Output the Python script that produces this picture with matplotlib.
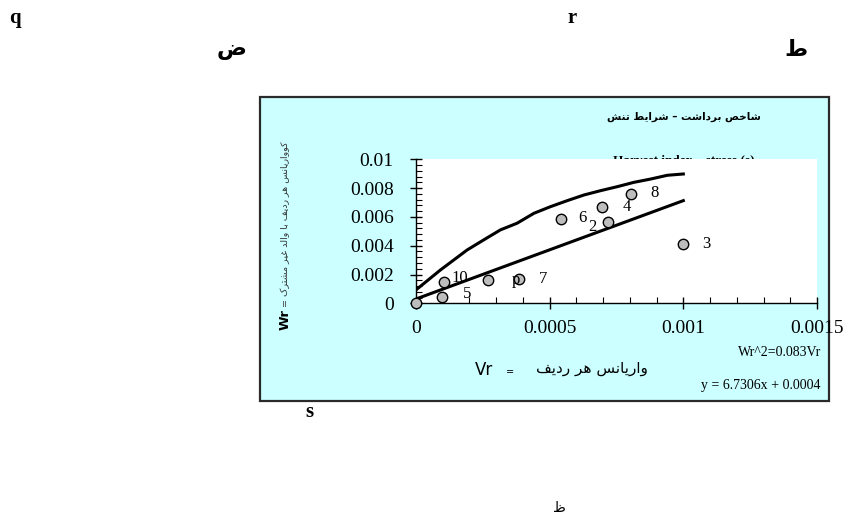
import matplotlib
matplotlib.use("Agg")
from matplotlib import pyplot as plt
from matplotlib.patches import Rectangle
from matplotlib.ticker import MultipleLocator, FixedLocator

# ------------------------------
# Data
# ------------------------------
vr_points = [0, 0.0000974, 0.000104, 0.00027, 0.000385, 0.000542, 0.00072, 0.000695, 0.000803, 0.000998]
wr_points = [0, 0.00044, 0.0015, 0.00162, 0.00167, 0.00583, 0.00563, 0.00671, 0.00757, 0.0041]
point_labels = ['', '5', '10', '', '7', '6', '2', '4', '8', '3']

curve_vr = [0, 0.0000911, 0.000191, 0.000253, 0.000316, 0.000378, 0.000441, 0.000503,
            0.000566, 0.000628, 0.00069, 0.000753, 0.000815, 0.000878, 0.00094, 0.001]
curve_wr = [0.00093, 0.00231, 0.0037, 0.0044, 0.0051, 0.00556, 0.00625, 0.00671,
            0.00713, 0.00752, 0.00782, 0.0081, 0.0084, 0.00863, 0.00889, 0.00898]

reg_vr = [0, 0.001]
reg_wr = [0.0003, 0.00713]

x_ticks = [0, 0.0005, 0.001, 0.0015]
x_ticklabels = ['0', '0.0005', '0.001', '0.0015']
y_ticks = [0, 0.002, 0.004, 0.006, 0.008, 0.01]
y_ticklabels = ['0', '0.002', '0.004', '0.006', '0.008', '0.01']

# ------------------------------
# Persian shaping (matplotlib has no complex text layout)
# ------------------------------
FORMS = {
    'ا': ('\uFE8D', '\uFE8E'),
    'ب': ('\uFE8F', '\uFE90', '\uFE91', '\uFE92'),
    'ت': ('\uFE95', '\uFE96', '\uFE97', '\uFE98'),
    'خ': ('\uFEA5', '\uFEA6', '\uFEA7', '\uFEA8'),
    'د': ('\uFEA9', '\uFEAA'),
    'ر': ('\uFEAD', '\uFEAE'),
    'س': ('\uFEB1', '\uFEB2', '\uFEB3', '\uFEB4'),
    'ش': ('\uFEB5', '\uFEB6', '\uFEB7', '\uFEB8'),
    'ص': ('\uFEB9', '\uFEBA', '\uFEBB', '\uFEBC'),
    'ض': ('\uFEBD', '\uFEBE', '\uFEBF', '\uFEC0'),
    'ط': ('\uFEC1', '\uFEC2', '\uFEC3', '\uFEC4'),
    'ظ': ('\uFEC5', '\uFEC6', '\uFEC7', '\uFEC8'),
    'غ': ('\uFECD', '\uFECE', '\uFECF', '\uFED0'),
    'ف': ('\uFED1', '\uFED2', '\uFED3', '\uFED4'),
    'ک': ('\uFB8E', '\uFB8F', '\uFB90', '\uFB91'),
    'ل': ('\uFEDD', '\uFEDE', '\uFEDF', '\uFEE0'),
    'م': ('\uFEE1', '\uFEE2', '\uFEE3', '\uFEE4'),
    'ن': ('\uFEE5', '\uFEE6', '\uFEE7', '\uFEE8'),
    'ه': ('\uFEE9', '\uFEEA', '\uFEEB', '\uFEEC'),
    'و': ('\uFEED', '\uFEEE'),
    'ی': ('\uFBFC', '\uFBFD', '\uFBFE', '\uFBFF'),
}


def fa(text):
    """Shape Persian text into presentation forms, in visual (LTR) order."""
    out = []
    i = 0
    while i < len(text):
        c = text[i]
        prev = text[i - 1] if i > 0 else ''
        joins_prev = prev in FORMS and len(FORMS[prev]) == 4
        if c == 'ل' and i + 1 < len(text) and text[i + 1] == 'ا':
            out.append('\uFEFC' if joins_prev else '\uFEFB')
            i += 2
            continue
        if c not in FORMS:
            out.append(c)
            i += 1
            continue
        nxt = text[i + 1] if i + 1 < len(text) else ''
        joins_next = len(FORMS[c]) == 4 and nxt in FORMS
        f = FORMS[c]
        if joins_prev and joins_next:
            out.append(f[3])
        elif joins_prev:
            out.append(f[1])
        elif joins_next:
            out.append(f[2])
        else:
            out.append(f[0])
        i += 1
    return ''.join(reversed(out))


SERIF = 'Liberation Serif'
FA = 'DejaVu Sans'

fig = plt.figure(figsize=(8.5, 5.18), dpi=100)

# ------------------------------
# Background layer in pixel coords
# ------------------------------
bg = fig.add_axes([0, 0, 1, 1], zorder=0)
bg.set_xlim(0, 850)
bg.set_ylim(518, 0)
bg.axis('off')

bg.add_patch(Rectangle((260, 97), 569, 304, facecolor='#ccffff', edgecolor='#2a2a2a', lw=1.6))

bg.text(15, 18, 'q', family=SERIF, fontsize=15, fontweight='bold', ha='center', va='center')
bg.text(572, 18, 'r', family=SERIF, fontsize=15, fontweight='bold', ha='center', va='center')
bg.text(232, 50, fa('ض'), family=FA, fontsize=16, fontweight='bold', ha='center', va='center')
bg.text(796, 50, fa('ط'), family=FA, fontsize=16, fontweight='bold', ha='center', va='center')
bg.text(309, 412, 's', family=SERIF, fontsize=15, fontweight='bold', ha='center', va='center')
bg.text(559, 508, fa('ظ'), family=FA, fontsize=10, ha='center', va='center')

bg.text(684, 117, fa('شاخص برداشت – شرایط تنش'), family=FA, fontsize=7.5,
        fontweight='bold', ha='center', va='center')
# partly hidden behind the white plot area, as in the reference
bg.text(684, 160, 'Harvest index – stress (s)', family=SERIF, fontsize=9.5,
        fontweight='bold', ha='center', va='center')

# y label (rotated)
bg.text(285, 320, 'Wr', family=FA, fontsize=9.5, fontweight='bold', rotation=90,
        ha='center', va='center')
bg.text(285, 224, '= ' + fa('کوواریانس هر ردیف با والد غیر مشترک'), family=FA,
        fontsize=6.8, color='#333333', rotation=90, ha='center', va='center')

# x label and equations
bg.text(484, 370, 'Vr', family=FA, fontsize=12, ha='center', va='center')
bg.text(510, 372, '=', family=FA, fontsize=7, ha='center', va='center')
bg.text(592, 369, fa('واریانس هر ردیف'), family=FA, fontsize=11, ha='center', va='center')
bg.text(821, 352, 'Wr^2=0.083Vr', family=SERIF, fontsize=10, ha='right', va='center')
bg.text(821, 386, 'y = 6.7306x + 0.0004', family=SERIF, fontsize=10, ha='right', va='center')

# ------------------------------
# Main plot
# ------------------------------
ax = fig.add_axes([416 / 850, 1 - 303.3 / 518, (817 - 416) / 850, (303.3 - 159.3) / 518], zorder=1)
ax.set_facecolor('white')
ax.set_xlim(0, 0.0015)
ax.set_ylim(0, 0.01)
ax.spines['top'].set_visible(False)
ax.spines['right'].set_visible(False)
ax.spines['left'].set_linewidth(1.0)
ax.spines['bottom'].set_linewidth(1.0)

ax.plot(curve_vr, curve_wr, color='black', lw=2.2, zorder=2)
ax.plot(reg_vr, reg_wr, color='black', lw=2.2, zorder=2)
ax.plot(vr_points, wr_points, linestyle='none', marker='o', markersize=7.5,
        markerfacecolor='#bdbdbd', markeredgecolor='black', markeredgewidth=1.0,
        clip_on=False, zorder=3)

label_offsets = [(0, 0), (25, 3), (16, 4), (0, 0), (24, 0), (22, 1), (-16, -5), (25, 0), (24, 1), (24, 0)]
for x, y, lab, off in zip(vr_points, wr_points, point_labels, label_offsets):
    if lab:
        ax.annotate(lab, (x, y), xytext=off, textcoords='offset pixels', family=SERIF,
                    fontsize=12, ha='center', va='center', zorder=4)
# stray glyph overlapping point 7
ax.annotate('p', (vr_points[4], wr_points[4]), xytext=(-3, -1), textcoords='offset pixels',
            family=SERIF, fontsize=12, ha='center', va='center', zorder=4)

ax.xaxis.set_major_locator(FixedLocator(x_ticks))
ax.set_xticklabels(x_ticklabels, family=SERIF, fontsize=14)
ax.xaxis.set_minor_locator(MultipleLocator(0.0001))
ax.yaxis.set_major_locator(FixedLocator(y_ticks))
ax.set_yticklabels(y_ticklabels, family=SERIF, fontsize=14)
ax.yaxis.set_minor_locator(MultipleLocator(0.0004))
ax.tick_params(which='major', direction='inout', length=8, width=1.0)
ax.tick_params(which='minor', direction='in', length=4, width=0.8)
ax.tick_params(axis='x', which='major', pad=8)
ax.tick_params(axis='y', which='major', pad=12)

fig.savefig('out.png', dpi=100)
